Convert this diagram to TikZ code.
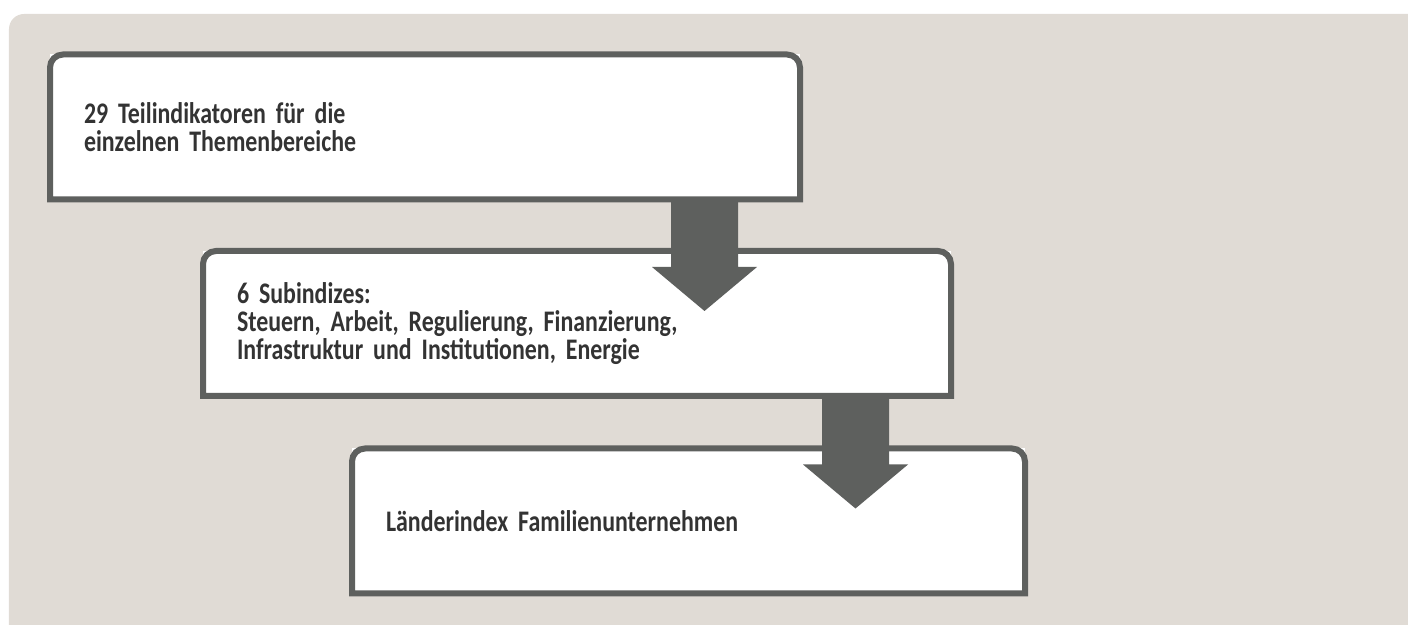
\documentclass[tikz,border=0pt]{standalone}
\usepackage{fontspec}
\setmainfont{Carlito}[FakeStretch=0.8, WordSpace=0.75]
\usetikzlibrary{calc}
\definecolor{panelgrey}{HTML}{E0DBD5}
\definecolor{framegrey}{HTML}{5E605E}
\definecolor{textgrey}{HTML}{333333}
\newcommand{\levelfont}{\fontsize{17}{15.8}\selectfont\bfseries}

\begin{document}
\begin{tikzpicture}
        [
            level/.style={rectangle, fill=white, outer sep=0pt, inner xsep=0.68cm, align=left, minimum height=2.9cm, text=textgrey, font=\levelfont},
            frame/.style={draw=framegrey, line width=0.12cm},
            flow/.style={fill=framegrey}
        ]
        \useasboundingbox (0,0) rectangle (28.16,12.5);
        %panel
        \fill[panelgrey] (28.16,0) -- (0.18,0) -- (0.18,11.92) arc[start angle=180, end angle=90, radius=0.3] -- (28.16,12.22) -- cycle;
        %nodes
        \node[level, minimum width=15cm, text width=13.64cm] at (8.5,9.96)    (tier1) {29 Teilindikatoren für die\\einzelnen Themenbereiche};
        \node[level, minimum width=14.96cm, text width=13.6cm] at (11.54,6.03) (tier2) {6 Subindizes:\\Steuern, Arbeit, Regulierung, Finanzierung,\\Infrastruktur und Institutionen, Energie};
        \node[level, minimum width=13.46cm, text width=12.1cm] at (13.77,2.08) (tier3) {Länderindex Familienunternehmen};
        %frames, rounded on top only
        \foreach \n in {tier1,tier2,tier3}
            \draw[frame] (\n.south west) -- ([yshift=-0.26cm]\n.north west) arc[start angle=180, end angle=90, radius=0.26cm]
                -- ([xshift=-0.26cm]\n.north east) arc[start angle=90, end angle=0, radius=0.26cm] -- (\n.south east) -- cycle;
        %arrows
        \foreach \from/\to in {tier1/tier2, tier2/tier3}
        {
            \path ([xshift=-1.91cm]\from.south east) coordinate (stem)
                  (stem |- \to.north) coordinate (head);
            \fill[flow] ($(stem)+(-0.67,0)$) -- ($(head)+(-0.67,-0.32)$) -- ($(head)+(-1.05,-0.32)$) -- ($(head)+(0,-1.2)$)
                -- ($(head)+(1.05,-0.32)$) -- ($(head)+(0.67,-0.32)$) -- ($(stem)+(0.67,0)$) -- cycle;
        }
    \end{tikzpicture}
\end{document}
